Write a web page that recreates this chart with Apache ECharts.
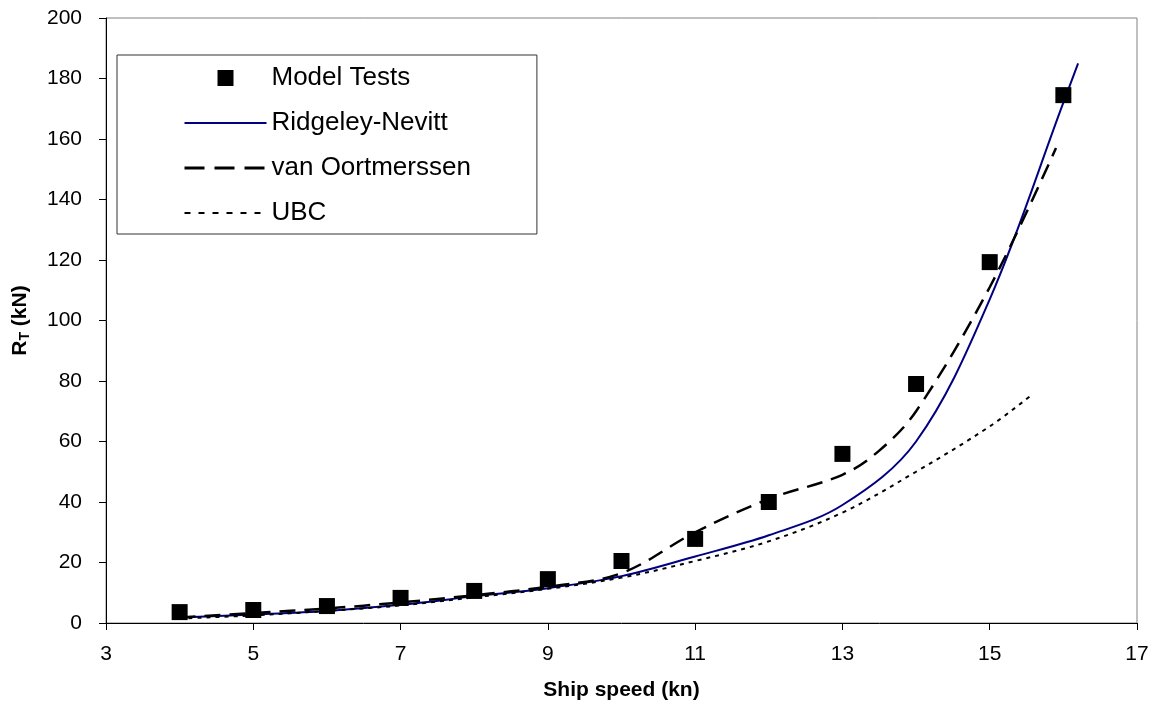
<!DOCTYPE html>
<html>
<head>
<meta charset="utf-8">
<script src="https://cdn.jsdelivr.net/npm/echarts@6/dist/echarts.min.js"></script>
<style>
  html, body { margin: 0; padding: 0; background: #fff; }
  #main { width: 1156px; height: 708px; }
</style>
</head>
<body>
<div id="main"></div>
<script>
// Model test points
const testSpeeds = [4, 5, 6, 7, 8, 9, 10, 11, 12, 13, 14, 15, 16];
const modelTests = [3.6, 4.3, 5.6, 8.3, 10.6, 14.5, 20.5, 27.8, 40, 55.9, 79, 119.3, 174.5];

// Ridgeley-Nevitt prediction
const rnSpeeds = [4, 5, 6, 7, 8, 9, 10, 11, 12, 13, 14, 15, 16, 16.2];
const rnValues = [1.8, 2.8, 4, 6, 8.8, 11.5, 15.5, 22, 29, 39, 60, 107, 172, 185];

// van Oortmerssen prediction
const voSpeeds = [4, 5, 6, 7, 8, 9, 10, 11, 12, 13, 13.5, 14, 15, 15.9];
const voValues = [1.8, 3.3, 4.8, 6.8, 9.2, 12, 16.5, 30, 41, 49, 57, 70, 111, 157];

// UBC prediction
const ubcSpeeds = [4, 5, 6, 7, 8, 9, 10, 11, 12, 13, 14, 15, 15.55];
const ubcValues = [1.5, 2.5, 4, 5.8, 8.5, 11.3, 15, 20.5, 27, 36.5, 50, 65, 75];

function pairs(xs, ys) {
  return xs.map((x, i) => [x, ys[i]]);
}

const FONT = '"Liberation Sans", Arial, sans-serif';
const noSymbol = { color: 'rgba(0,0,0,0)', borderWidth: 0, opacity: 0 };

const chart = echarts.init(document.getElementById('main'));

const option = {
  animation: false,
  backgroundColor: '#fff',
  textStyle: { fontFamily: FONT },
  grid: {
    left: 106, right: 19, top: 18, bottom: 85,
    show: true, borderColor: '#808080', borderWidth: 1
  },
  legend: {
    orient: 'vertical',
    left: 117, top: 55,
    padding: [10, 66, 8, 66],
    itemWidth: 82, itemHeight: 16,
    itemGap: 19,
    itemTextGap: 6,
    backgroundColor: '#fff',
    borderColor: '#333',
    borderWidth: 1,
    textStyle: { fontSize: 26, color: '#000', fontFamily: FONT },
    data: [
      { name: 'Model Tests', icon: 'path://M0,0L1,0L1,1L0,1Z' },
      { name: 'Ridgeley-Nevitt', itemStyle: noSymbol },
      { name: 'van Oortmerssen', itemStyle: noSymbol, lineStyle: { type: [20, 10], width: 3 } },
      { name: 'UBC', itemStyle: noSymbol, lineStyle: { type: [6, 8], width: 2 } }
    ]
  },
  xAxis: {
    type: 'value',
    min: 3, max: 17, interval: 2,
    name: 'Ship speed (kn)',
    nameLocation: 'middle',
    nameGap: 57,
    nameTextStyle: { fontSize: 21, fontWeight: 'bold', color: '#000' },
    axisLine: { show: true, lineStyle: { color: '#000', width: 1 } },
    axisTick: { show: true, length: 7, lineStyle: { color: '#000' } },
    axisLabel: { fontSize: 21, color: '#000', margin: 21 },
    splitLine: { show: false }
  },
  yAxis: {
    type: 'value',
    min: 0, max: 200, interval: 20,
    name: '{r|R}{s|T}{r| (kN)}',
    nameLocation: 'middle',
    nameGap: 74,
    nameRotate: 90,
    nameTextStyle: {
      rich: {
        r: { fontSize: 21, fontWeight: 'bold', color: '#000', fontFamily: FONT },
        s: { fontSize: 14, fontWeight: 'bold', color: '#000', fontFamily: FONT, verticalAlign: 'bottom', padding: [9, 0, 0, 0] }
      }
    },
    axisLine: { show: true, lineStyle: { color: '#000', width: 1 } },
    axisTick: { show: true, length: 7, lineStyle: { color: '#000' } },
    axisLabel: { fontSize: 21, color: '#000', margin: 24 },
    splitLine: { show: false }
  },
  series: [
    {
      name: 'Ridgeley-Nevitt',
      type: 'line',
      data: pairs(rnSpeeds, rnValues),
      smooth: 0.35,
      showSymbol: false,
      symbol: 'none',
      lineStyle: { color: '#000080', width: 2 },
      itemStyle: { color: '#000080' },
      z: 2
    },
    {
      name: 'van Oortmerssen',
      type: 'line',
      data: pairs(voSpeeds, voValues),
      smooth: 0.35,
      showSymbol: false,
      symbol: 'none',
      lineStyle: { color: '#000', width: 2.5, type: [16, 9] },
      itemStyle: { color: '#000' },
      z: 3
    },
    {
      name: 'UBC',
      type: 'line',
      data: pairs(ubcSpeeds, ubcValues),
      smooth: 0.35,
      showSymbol: false,
      symbol: 'none',
      lineStyle: { color: '#000', width: 2, type: [4, 5] },
      itemStyle: { color: '#000' },
      z: 2
    },
    {
      name: 'Model Tests',
      type: 'scatter',
      data: pairs(testSpeeds, modelTests),
      symbol: 'rect',
      symbolSize: 16,
      itemStyle: { color: '#000', opacity: 1 },
      z: 4
    }
  ]
};

chart.setOption(option);
window.addEventListener('resize', () => { chart.resize(); });
</script>
</body>
</html>
